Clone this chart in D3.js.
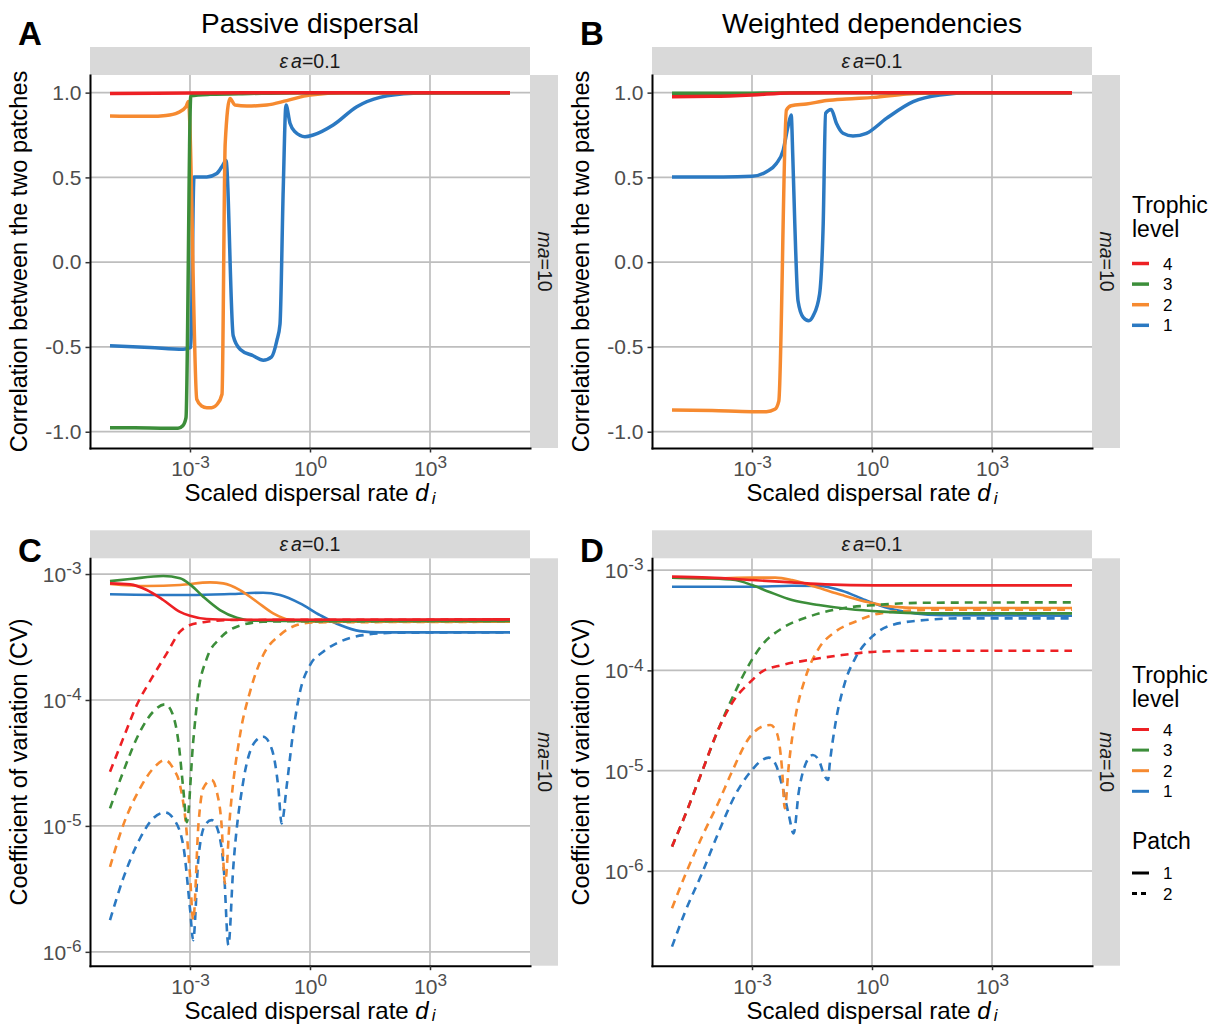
<!DOCTYPE html>
<html>
<head>
<meta charset="utf-8">
<script src="https://cdn.jsdelivr.net/npm/d3@7"></script>
<style>
body { margin: 0; background: #fff; }
svg text { font-family: "Liberation Sans", Arial, Helvetica, sans-serif; }
</style>
</head>
<body>
<svg id="fig" width="1215" height="1026"></svg>
<script>
// points: [log10 of the scaled dispersal rate, value]
// correlation panels hold the correlation, CV panels hold log10(CV)

// A - passive dispersal, correlation between patches
const passiveCor1 = [[-5,-0.493],[-4,-0.503],[-3.17,-0.513],[-2.98,-0.503],[-2.9,0.503],[-2.58,0.503],[-2.33,0.523],[-2.18,0.572],[-2.1,0.6],[-1.92,-0.434],[-1.75,-0.513],[-1.42,-0.552],[-1.17,-0.578],[-0.96,-0.558],[-0.83,-0.464],[-0.75,-0.365],[-0.67,0.424],[-0.6,0.927],[-0.5,0.819],[-0.375,0.769],[-0.125,0.74],[0.08,0.75],[0.58,0.809],[1.17,0.917],[1.75,0.972],[2.58,0.996],[3.42,1.0],[5,1.0]]
const passiveCor2 = [[-5,0.862],[-4,0.86],[-3.6,0.865],[-3.3,0.882],[-3.1,0.917],[-3.04,0.947],[-2.83,-0.809],[-2.71,-0.848],[-2.58,-0.858],[-2.46,-0.858],[-2.32,-0.838],[-2.2,-0.779],[-2.12,0.7],[-2.0,0.966],[-1.875,0.927],[-1.58,0.921],[-1.08,0.927],[-0.58,0.953],[0,0.986],[0.9,0.999],[5,1.0]]
const passiveCor3 = [[-5,-0.976],[-4,-0.978],[-3.3,-0.98],[-3.18,-0.965],[-3.1,-0.917],[-2.98,0.982],[-2.5,0.99],[-1.5,0.995],[0,1.0],[5,1.0]]
const passiveCor4 = [[-5,0.995],[-3,0.998],[-1,1.0],[5,1.0]]

// B - weighted dependencies, correlation between patches
const weightedCor1 = [[-5,0.503],[-3.72,0.503],[-3,0.507],[-2.64,0.533],[-2.39,0.582],[-2.22,0.661],[-2.1,0.8],[-2.02,0.868],[-1.98,0.621],[-1.93,0.227],[-1.85,-0.227],[-1.72,-0.325],[-1.58,-0.345],[-1.47,-0.316],[-1.31,-0.187],[-1.22,0.227],[-1.16,0.878],[-1.02,0.901],[-0.89,0.819],[-0.725,0.76],[-0.475,0.744],[-0.14,0.76],[0.36,0.848],[1.03,0.947],[1.69,0.986],[2.52,1.0],[5,1.0]]
const weightedCor2 = [[-5,-0.872],[-4,-0.875],[-3,-0.882],[-2.64,-0.882],[-2.43,-0.868],[-2.33,-0.819],[-2.14,0.897],[-2.02,0.923],[-1.64,0.933],[-1.14,0.953],[-0.64,0.963],[0.03,0.972],[0.86,0.992],[1.7,1.0],[5,1.0]]
const weightedCor3 = [[-5,0.996],[-3,0.997],[-1,1.0],[5,1.0]]
const weightedCor4 = [[-5,0.976],[-4,0.978],[-3,0.986],[-2.06,0.998],[0,1.0],[5,1.0]]

// C - passive dispersal, log10 CV, patch 1 (solid) and patch 2 (dashed)
const passiveCv1p1 = [[-5,-3.16],[-3,-3.167],[-2,-3.159],[-1.17,-3.148],[-0.75,-3.167],[-0.25,-3.233],[0.25,-3.326],[0.75,-3.405],[1.25,-3.453],[1.75,-3.463],[5,-3.463]]
const passiveCv2p1 = [[-5,-3.079],[-4.08,-3.095],[-3.25,-3.087],[-2.5,-3.066],[-2.17,-3.074],[-1.75,-3.127],[-1.33,-3.22],[-0.92,-3.312],[-0.5,-3.365],[0,-3.379],[5,-3.379]]
const passiveCv3p1 = [[-5,-3.056],[-4.5,-3.04],[-3.67,-3.016],[-3.25,-3.034],[-3,-3.082],[-2.67,-3.18],[-2.25,-3.286],[-1.83,-3.347],[-1.42,-3.371],[-0.6,-3.373],[5,-3.373]]
const passiveCv4p1 = [[-5,-3.074],[-4.5,-3.082],[-4.08,-3.127],[-3.67,-3.206],[-3.25,-3.3],[-3,-3.331],[-2.58,-3.357],[-2,-3.363],[5,-3.36]]
const passiveCv1p2 = [[-5,-5.748],[-4.67,-5.417],[-4.25,-5.1],[-3.92,-4.94],[-3.625,-4.893],[-3.42,-4.94],[-3.17,-5.153],[-3,-5.656],[-2.92,-5.907],[-2.79,-5.258],[-2.625,-4.994],[-2.46,-4.954],[-2.29,-5.047],[-2.15,-5.364],[-2.04,-5.947],[-1.92,-5.337],[-1.67,-4.65],[-1.375,-4.332],[-1.17,-4.292],[-0.96,-4.385],[-0.79,-4.702],[-0.71,-4.98],[-0.58,-4.676],[-0.42,-4.252],[-0.25,-3.935],[0,-3.723],[0.33,-3.617],[0.75,-3.537],[1.33,-3.485],[2.17,-3.466],[5,-3.463]]
const passiveCv2p2 = [[-5,-5.325],[-4.67,-4.994],[-4.25,-4.702],[-3.92,-4.544],[-3.625,-4.477],[-3.42,-4.544],[-3.25,-4.676],[-3.1,-4.994],[-3,-5.39],[-2.92,-5.748],[-2.79,-4.994],[-2.67,-4.702],[-2.46,-4.636],[-2.33,-4.729],[-2.21,-4.994],[-2.125,-5.457],[-2,-4.914],[-1.75,-4.279],[-1.5,-3.935],[-1.17,-3.643],[-0.75,-3.484],[-0.33,-3.405],[0.08,-3.384],[5,-3.379]]
const passiveCv3p2 = [[-5,-4.861],[-4.67,-4.57],[-4.25,-4.252],[-3.92,-4.093],[-3.625,-4.035],[-3.46,-4.093],[-3.29,-4.33],[-3.17,-4.7],[-3.08,-4.97],[-2.92,-4.33],[-2.79,-3.935],[-2.58,-3.67],[-2.25,-3.511],[-1.83,-3.418],[-1.17,-3.379],[0,-3.374],[5,-3.373]]
const passiveCv4p2 = [[-5,-4.57],[-4.67,-4.305],[-4.33,-4.04],[-3.96,-3.829],[-3.58,-3.63],[-3.25,-3.458],[-3,-3.405],[-2.58,-3.379],[-2,-3.365],[5,-3.362]]

// D - weighted dependencies, log10 CV
const weightedCv1p1 = [[-5,-3.166],[-3,-3.166],[-2,-3.156],[-1.33,-3.159],[-0.75,-3.206],[-0.17,-3.299],[0.42,-3.382],[1.08,-3.432],[1.75,-3.449],[5,-3.455]]
const weightedCv2p1 = [[-5,-3.076],[-4.08,-3.083],[-3,-3.076],[-2.42,-3.076],[-2,-3.1],[-1.42,-3.166],[-0.75,-3.249],[-0.08,-3.322],[0.5,-3.365],[1.17,-3.378],[5,-3.378]]
const weightedCv3p1 = [[-5,-3.076],[-4.08,-3.083],[-3.42,-3.1],[-3,-3.15],[-2.58,-3.216],[-2,-3.299],[-1.33,-3.349],[-0.58,-3.389],[0.25,-3.415],[1.33,-3.432],[5,-3.432]]
const weightedCv4p1 = [[-5,-3.066],[-4.08,-3.076],[-3,-3.1],[-2,-3.123],[-1.17,-3.143],[0.08,-3.153],[5,-3.153]]
const weightedCv1p2 = [[-5,-6.754],[-4.67,-6.405],[-4.25,-6.023],[-3.83,-5.608],[-3.42,-5.243],[-3,-4.993],[-2.75,-4.894],[-2.58,-4.87],[-2.42,-4.927],[-2.25,-5.143],[-2.08,-5.442],[-1.96,-5.625],[-1.83,-5.209],[-1.67,-4.943],[-1.48,-4.844],[-1.33,-4.894],[-1.21,-5.027],[-1.1,-5.093],[-1.06,-4.944],[-0.92,-4.545],[-0.67,-4.113],[-0.42,-3.88],[0,-3.664],[0.5,-3.548],[1.33,-3.498],[2.17,-3.482],[5,-3.482]]
const weightedCv2p2 = [[-5,-6.372],[-4.67,-6.04],[-4.25,-5.658],[-3.83,-5.309],[-3.5,-5.01],[-3.08,-4.678],[-2.75,-4.561],[-2.54,-4.545],[-2.375,-4.628],[-2.25,-4.977],[-2.18,-5.375],[-2.08,-4.944],[-1.92,-4.478],[-1.67,-4.08],[-1.33,-3.781],[-0.92,-3.615],[-0.42,-3.515],[0.08,-3.442],[0.92,-3.405],[1.75,-3.395],[5,-3.395]]
const weightedCv3p2 = [[-5,-5.757],[-4.67,-5.442],[-4.25,-5.01],[-3.83,-4.578],[-3.42,-4.213],[-3.08,-3.947],[-2.75,-3.748],[-2.25,-3.581],[-1.58,-3.465],[-0.75,-3.382],[0.08,-3.349],[1.33,-3.326],[5,-3.322]]
const weightedCv4p2 = [[-5,-5.757],[-4.67,-5.442],[-4.25,-5.01],[-3.83,-4.578],[-3.42,-4.279],[-3.08,-4.13],[-2.75,-4.013],[-2.25,-3.947],[-1.58,-3.897],[-0.75,-3.847],[0.08,-3.814],[1.33,-3.804],[5,-3.804]]

// scales and ticks
const xLimits = [-5.5, 5.5]
const xTicks = [1e-3, 1, 1e3]
const corLimits = [-1.096, 1.104]
const corTicks = [-1, -0.5, 0, 0.5, 1]
const cvPassiveLimits = [-6.11, -2.875]
const cvWeightedLimits = [-6.944, -2.883]
const cvTicks = [1e-6, 1e-5, 1e-4, 1e-3]

const trophicLevels = ['4', '3', '2', '1']
const patches = ['1', '2']
const levelColors = {'4': '#ED2024', '3': '#3C8E3A', '2': '#F68A30', '1': '#2B79C2'}

const panelTitles = ['Passive dispersal', 'Weighted dependencies']
const corTitle = 'Correlation between the two patches'
const cvTitle = 'Coefficient of variation (CV)'

// layout
const panelW = 440
const colX = [90, 652]
const rowY = [75, 558.3]
const rowH = [373, 407.4]
const stripSize = 28
const gridColor = '#BEBEBE'
const tickColor = '#4D4D4D'

const svg = d3.select('#fig')

function supLabel(sel, exp) {
    sel.text('10')
    sel.append('tspan').attr('dy', '-0.45em').attr('font-size', '0.82em').text(exp)
}

function drawPanel(p) {
    const g = svg.append('g')
    const left = p.left, top = p.top, h = p.height
    const right = left + panelW, bottom = top + h

    const x = d3.scaleLog().domain(xLimits.map(v => 10 ** v)).range([left, right])
    const y = (p.log ? d3.scaleLog() : d3.scaleLinear())
        .domain(p.log ? p.yLimits.map(v => 10 ** v) : p.yLimits)
        .range([bottom, top])

    // Grid
    g.selectAll('.gx').data(xTicks).join('line')
        .attr('x1', d => x(d)).attr('x2', d => x(d))
        .attr('y1', top).attr('y2', bottom)
        .attr('stroke', gridColor).attr('stroke-width', 1.7)
    g.selectAll('.gy').data(p.yTicks).join('line')
        .attr('x1', left).attr('x2', right)
        .attr('y1', d => y(d)).attr('y2', d => y(d))
        .attr('stroke', gridColor).attr('stroke-width', 1.7)

    // Strips
    g.append('rect').attr('x', left).attr('y', top - stripSize)
        .attr('width', panelW).attr('height', stripSize).attr('fill', '#D9D9D9')
    g.append('rect').attr('x', right).attr('y', top)
        .attr('width', stripSize).attr('height', h).attr('fill', '#D9D9D9')

    const topStrip = g.append('text').attr('x', left + panelW / 2).attr('y', top - 7.5)
        .attr('text-anchor', 'middle').attr('font-size', 19.5).attr('fill', '#1A1A1A')
    topStrip.append('tspan').attr('font-style', 'italic').text('ε')
    topStrip.append('tspan').attr('font-style', 'italic').attr('dx', 3).text('a')
    topStrip.append('tspan').text('=0.1')

    const sideStrip = g.append('text')
        .attr('transform', `translate(${right + 7.5},${top + h / 2}) rotate(90)`)
        .attr('text-anchor', 'middle').attr('font-size', 19.5).attr('fill', '#1A1A1A')
    sideStrip.append('tspan').attr('font-style', 'italic').text('ma')
    sideStrip.append('tspan').text('=10')

    // Lines
    const clipId = 'clip' + p.tag
    svg.append('clipPath').attr('id', clipId).append('rect')
        .attr('x', left).attr('y', top).attr('width', panelW).attr('height', h)

    const line = d3.line()
        .x(d => x(10 ** d[0]))
        .y(d => y(p.log ? 10 ** d[1] : d[1]))
        .curve(d3.curveMonotoneX)

    g.append('g').attr('clip-path', `url(#${clipId})`)
        .selectAll('path').data(p.series).join('path')
        .attr('d', s => line(s.values))
        .attr('fill', 'none')
        .attr('stroke', s => levelColors[s.level])
        .attr('stroke-width', p.lineWidth)
        .attr('stroke-linejoin', 'round')
        .attr('stroke-dasharray', s => s.patch === '2' ? '8,6' : null)

    // Axes
    const xAxis = d3.axisBottom(x).tickValues(xTicks).tickSize(4.5).tickSizeOuter(0).tickFormat(() => '')
    const xg = g.append('g').attr('transform', `translate(0,${bottom})`).call(xAxis)
        .attr('font-size', null).attr('font-family', null)
    xg.selectAll('.tick line').attr('stroke', '#333').attr('stroke-width', 1.5)
    xg.selectAll('.tick text')
        .attr('y', 28).attr('dy', null).attr('font-size', 21).attr('fill', tickColor)
        .each(function(d) { supLabel(d3.select(this), String(Math.round(Math.log10(d)))) })

    const yAxis = d3.axisLeft(y).tickValues(p.yTicks).tickSize(4.5).tickSizeOuter(0).tickPadding(4)
        .tickFormat(d => p.log ? '' : d.toFixed(1))
    const yg = g.append('g').attr('transform', `translate(${left},0)`).call(yAxis)
        .attr('font-size', null).attr('font-family', null)
    yg.selectAll('.tick line').attr('stroke', '#333').attr('stroke-width', 1.5)
    yg.selectAll('.tick text').attr('font-size', 21).attr('fill', tickColor)
    if (p.log) {
        yg.selectAll('.tick text').attr('dy', '0.36em')
            .each(function(d) { supLabel(d3.select(this), String(Math.round(Math.log10(d)))) })
    }
    ;[xg, yg].forEach(a => a.select('.domain').attr('stroke', '#000').attr('stroke-width', 2).attr('stroke-linecap', 'square'))

    // Axis titles
    const xt = g.append('text').attr('x', left + panelW / 2).attr('y', bottom + 53)
        .attr('text-anchor', 'middle').attr('font-size', 24).attr('fill', '#000')
    xt.append('tspan').text('Scaled dispersal rate ')
    xt.append('tspan').attr('font-style', 'italic').text('d')
    xt.append('tspan').attr('font-style', 'italic').attr('font-size', '0.7em').attr('dx', 3).attr('dy', '0.15em').text('i')

    g.append('text')
        .attr('transform', `translate(${left - 63},${top + h / 2}) rotate(-90)`)
        .attr('text-anchor', 'middle').attr('font-size', 23.5).attr('fill', '#000')
        .text(p.yTitle)

    // Tag and title
    g.append('text').attr('x', left - 72).attr('y', top - (p.title ? 30 : -3.7))
        .attr('font-size', 33).attr('font-weight', 'bold').attr('fill', '#000').text(p.tag)
    if (p.title) {
        g.append('text').attr('x', left + panelW / 2).attr('y', 33)
            .attr('text-anchor', 'middle').attr('font-size', 28).attr('fill', '#000').text(p.title)
    }
}

function seriesOf(lists) {
    // lists ordered by trophic level 1..4, each [patch1, patch2]
    const out = []
    lists.forEach((pair, i) => {
        pair.forEach((values, j) => {
            if (values) out.push({level: String(i + 1), patch: patches[j], values: values})
        })
    })
    return out
}

drawPanel({tag: 'A', title: panelTitles[0], left: colX[0], top: rowY[0], height: rowH[0],
    log: false, yLimits: corLimits, yTicks: corTicks, yTitle: corTitle, lineWidth: 3.5,
    series: seriesOf([[passiveCor1], [passiveCor2], [passiveCor3], [passiveCor4]])})
drawPanel({tag: 'B', title: panelTitles[1], left: colX[1], top: rowY[0], height: rowH[0],
    log: false, yLimits: corLimits, yTicks: corTicks, yTitle: corTitle, lineWidth: 3.5,
    series: seriesOf([[weightedCor1], [weightedCor2], [weightedCor3], [weightedCor4]])})
drawPanel({tag: 'C', left: colX[0], top: rowY[1], height: rowH[1],
    log: true, yLimits: cvPassiveLimits, yTicks: cvTicks, yTitle: cvTitle, lineWidth: 2.6,
    series: seriesOf([[passiveCv1p1, passiveCv1p2], [passiveCv2p1, passiveCv2p2],
        [passiveCv3p1, passiveCv3p2], [passiveCv4p1, passiveCv4p2]])})
drawPanel({tag: 'D', left: colX[1], top: rowY[1], height: rowH[1],
    log: true, yLimits: cvWeightedLimits, yTicks: cvTicks, yTitle: cvTitle, lineWidth: 2.6,
    series: seriesOf([[weightedCv1p1, weightedCv1p2], [weightedCv2p1, weightedCv2p2],
        [weightedCv3p1, weightedCv3p2], [weightedCv4p1, weightedCv4p2]])})

// Legends
function drawLegend(lx, titleY, keyY, lw, withPatch) {
    const g = svg.append('g')
    g.append('text').attr('x', lx).attr('y', titleY).attr('font-size', 23).attr('fill', '#000').text('Trophic')
    g.append('text').attr('x', lx).attr('y', titleY + 23.5).attr('font-size', 23).attr('fill', '#000').text('level')
    trophicLevels.forEach((lev, i) => {
        const ky = keyY + i * 20.6
        g.append('line').attr('x1', lx).attr('x2', lx + 17).attr('y1', ky).attr('y2', ky)
            .attr('stroke', levelColors[lev]).attr('stroke-width', lw)
        g.append('text').attr('x', lx + 31).attr('y', ky + 6).attr('font-size', 17).attr('fill', '#000').text(lev)
    })
    if (withPatch) {
        const py = keyY + 119
        g.append('text').attr('x', lx).attr('y', py).attr('font-size', 23).attr('fill', '#000').text('Patch')
        patches.forEach((pt, i) => {
            const ky = py + 24.5 + i * 20.6
            g.append('line').attr('x1', lx).attr('x2', lx + 17).attr('y1', ky).attr('y2', ky)
                .attr('stroke', '#000').attr('stroke-width', lw)
                .attr('stroke-dasharray', pt === '2' ? '5,4' : null)
            g.append('text').attr('x', lx + 31).attr('y', ky + 6).attr('font-size', 17).attr('fill', '#000').text(pt)
        })
    }
}

drawLegend(1132, 213, 263.5, 3.5, false)
drawLegend(1132, 683, 729.5, 3, true)
</script>
</body>
</html>
